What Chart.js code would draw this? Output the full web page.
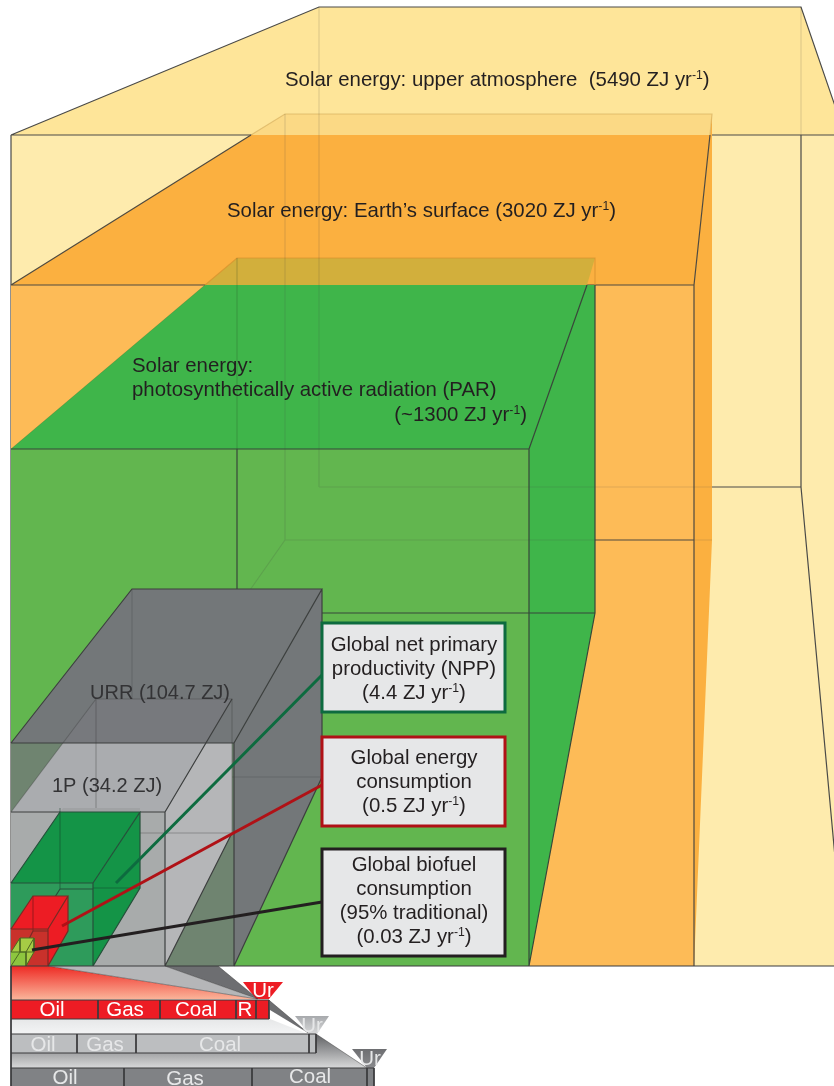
<!DOCTYPE html>
<html><head><meta charset="utf-8">
<script src="https://cdn.jsdelivr.net/npm/chart.js@4"></script>
<style>html,body{margin:0;padding:0;background:#fff;overflow:hidden}canvas{display:block}</style>
</head><body>
<canvas id="c" width="834" height="1086"></canvas>
<script>
// Scale domain of the diagram
const domainX = [0, 834];
const domainY = [0, 1086];

// Faces: [x, y] in diagram units
const yellowTop = [[11,135],[319,7],[801,7],[845,135]];
const yellowFront = [[11,135],[845,135],[845,966],[11,966]];
const orangeTopUpper = [[251,135],[285,114],[712,114],[710,135]];
const orangeTopLower = [[11,285],[251,135],[710,135],[694,285]];
const orangeFront = [[11,285],[694,285],[694,966],[11,966]];
const orangeSide = [[694,285],[710,135],[712,114],[712,540],[694,966]];
const greenTopUpper = [[205,285],[237,258],[595,258],[587,285]];
const greenTopLower = [[11,449],[205,285],[587,285],[529,449]];
const greenFront = [[11,449],[529,449],[529,966],[11,966]];
const greenSide = [[529,449],[587,285],[595,285],[595,613],[529,966]];
const urrTop = [[11,743],[132,589],[322,589],[234,743]];
const urrSide = [[234,743],[322,589],[322,777],[234,966]];
const urrFront = [[11,743],[234,743],[234,966],[11,966]];
const p1TopUpper = [[63,743],[96,699],[232,699],[206,743]];
const p1TopLower = [[11,812],[63,743],[206,743],[165,812]];
const p1Side = [[165,812],[206,743],[232,743],[232,833],[165,966]];
const p1Front = [[11,812],[165,812],[165,966],[11,966]];
const nppBand = [[63,808],[140,808],[140,812],[60,812]];
const nppTop = [[11,883],[60,812],[140,812],[93,883]];
const nppSide = [[93,883],[140,812],[140,888],[93,966]];
const nppFront = [[11,883],[93,883],[93,966],[11,966]];
const redTop = [[11,929],[33,896],[68,896],[48,929]];
const redSide = [[48,929],[68,896],[68,931],[48,966]];
const redFront = [[11,929],[48,929],[48,966],[11,966]];
const bioTop = [[11,952],[20,938],[34,938],[26,952]];
const bioSide = [[26,952],[34,938],[34,952],[26,966]];
const bioFront = [[11,952],[26,952],[26,966],[11,966]];
const fanRed = [[11,966],[48,966],[257,999],[11,1000]];
const fanLight = [[48,966],[165,966],[257,999]];
const fanDark = [[165,966],[218,966],[258,999]];
const fanDark2 = [[270,1001],[308,1033],[270,1010]];
const fanPale = [[11,1019],[270,1019],[308,1034],[11,1034]];
const fanGrey = [[11,1053],[316,1053],[316,1034],[367,1068],[11,1068]];
const barRed = [[11,1000],[269,1000],[269,1019],[11,1019]];
const barGrey = [[11,1034],[316,1034],[316,1053],[11,1053]];
const barDark = [[11,1068],[374,1068],[374,1090],[11,1090]];
const funnelRed = [[243,982],[283,982],[269,999],[256,999]];
const funnelGrey = [[295,1016],[329,1016],[317,1034],[309,1034]];
const funnelDark = [[352,1049],[387,1049],[374,1068],[367,1068]];
const boxNpp = [[322,623],[505,623],[505,712],[322,712]];
const boxEnergy = [[322,737],[505,737],[505,826],[322,826]];
const boxBio = [[322,849],[505,849],[505,956],[322,956]];

// Edges
const yellowOuter = [[[11,135],[319,7],[801,7],[845,135]],[[11,135],[845,135]],[[801,135],[801,487]],[[712,487],[801,487]],[[801,487],[845,966]],[[11,135],[11,966]]];
const orangeOuter = [[[11,285],[251,135]],[[11,285],[694,285]],[[694,285],[710,135]],[[694,285],[694,966]],[[595,540],[694,540]]];
const orangeRim = [[[251,135],[285,114],[712,114],[710,135]]];
const orangeBack = [[[285,114],[285,540]],[[285,540],[595,540]],[[319,7],[319,487]],[[319,487],[712,487]],[[801,7],[801,135]],[[285,540],[250,590]],[[694,540],[712,540]]];
const greenOuter = [[[11,449],[529,449]],[[587,285],[529,449]],[[529,449],[529,966]],[[595,285],[595,613]],[[595,613],[529,966]],[[237,449],[237,613]],[[237,613],[595,613]]];
const greenRim = [[[205,285],[237,258],[595,258],[595,285]]];
const greenSoft = [[[11,449],[205,285]]];
const greenBack = [[[237,258],[237,449]],[[237,613],[70,880]]];
const urrEdges = [[[11,743],[132,589],[322,589],[234,743]],[[11,743],[234,743]],[[234,743],[234,966]],[[322,589],[322,777],[234,966]]];
const urrBack = [[[132,589],[132,777]],[[132,777],[322,777]]];
const p1Edges = [[[11,812],[165,812]],[[165,812],[165,966]],[[165,812],[232,699]],[[232,833],[165,966]]];
const p1Back = [[[11,812],[96,699],[232,699],[232,833]],[[96,699],[96,833]],[[96,833],[232,833]]];
const nppEdges = [[[11,883],[60,812],[140,812],[93,883]],[[11,883],[93,883]],[[93,883],[93,966]],[[140,812],[140,888],[93,966]],[[60,889],[93,889]],[[60,889],[48,908]]];
const nppBack = [[[60,808],[60,889]],[[140,888],[93,888]]];
const redEdges = [[[11,929],[33,896],[68,896],[48,929]],[[11,929],[48,929]],[[48,929],[48,966]],[[68,896],[68,931],[48,966]],[[33,931],[48,931]],[[33,931],[26,945]]];
const redBack = [[[33,896],[33,931]]];
const bioEdges = [[[11,952],[20,938],[34,938],[26,952]],[[11,952],[26,952]],[[26,952],[26,966]],[[34,938],[34,952],[26,966]],[[20,952],[34,952]],[[20,938],[20,952],[11,966]]];
const baseEdge = [[[11,966],[845,966]]];
const fanEdges = [[[48,966],[257,999]],[[218,966],[258,999]],[[165,966],[258,999]],[[270,1001],[308,1033]],[[316,1034],[367,1068]]];
const barEdges = [[[11,1000],[269,1000],[269,1019],[11,1019]],[[98,1000],[98,1019]],[[160,1000],[160,1019]],[[236,1000],[236,1019]],[[256,1000],[256,1019]],
  [[11,1034],[316,1034],[316,1053],[11,1053]],[[77,1034],[77,1053]],[[136,1034],[136,1053]],[[309,1034],[309,1053]],
  [[11,1068],[374,1068],[374,1090]],[[124,1068],[124,1090]],[[252,1068],[252,1090]],[[367,1068],[367,1090]],[[11,966],[11,1086]]];
const linkNpp = [[116,883],[322,675]];
const linkEnergy = [[62,926],[322,785]];
const linkBio = [[32,950],[322,902]];

// Text
const solarLabels = [
 ["Solar energy: upper atmosphere  (5490 ZJ yr^-1^)",285,86,"left"],
 ["Solar energy: Earth\u2019s surface (3020 ZJ yr^-1^)",227,217,"left"],
 ["Solar energy:",132,372,"left"],
 ["photosynthetically active radiation (PAR)",132,396,"left"],
 ["(~1300 ZJ yr^-1^)",527,421,"right"]];
const stockLabels = [["URR (104.7 ZJ)",90,699,"left"],["1P (34.2 ZJ)",52,792,"left"]];
const boxLabels = [
 ["Global net primary",414,651,"center"],["productivity (NPP)",414,675,"center"],["(4.4 ZJ yr^-1^)",414,699,"center"],
 ["Global energy",414,764,"center"],["consumption",414,788,"center"],["(0.5 ZJ yr^-1^)",414,812,"center"],
 ["Global biofuel",414,871,"center"],["consumption",414,895,"center"],["(95% traditional)",414,919,"center"],["(0.03 ZJ yr^-1^)",414,943,"center"]];
const redBarLabels = [["Oil",52,1016],["Gas",125,1016],["Coal",196,1016],["R",245,1016],["Ur",263,997]];
const greyBarLabels = [["Oil",43,1051],["Gas",105,1051],["Coal",220,1051],["Ur",312,1032]];
const darkBarLabels = [["Oil",65,1084],["Gas",185,1085],["Coal",310,1083],["Ur",370,1065]];

const pts = list => list.map(p => ({x:p[0], y:p[1]}));
const closed = list => pts(list.concat([list[0]]));
const layers = [];
function poly(list, fill){
  layers.push({data:closed(list), fill:'shape', backgroundColor:fill, borderWidth:0, borderColor:'transparent'});
}
function edges(groups, color, width){
  const data = [];
  groups.forEach(g => { pts(g).forEach(p => data.push(p)); data.push({x:null,y:null}); });
  layers.push({data, fill:false, borderColor:color, borderWidth:width, backgroundColor:'transparent', borderCapStyle:'butt'});
}
const g2d = document.getElementById('c').getContext('2d');
function vgrad(y0, y1, c0, c1){
  const g = g2d.createLinearGradient(0,y0,0,y1);
  g.addColorStop(0,c0); g.addColorStop(1,c1); return g;
}
const DARK = '#3a3a3c', SOFT = 'rgba(60,60,60,.16)';

poly(yellowTop,'#FEE599'); poly(yellowFront,'#FEEBAD');
edges(yellowOuter,'#4a4a48',1.2);
poly(orangeFront,'#FDBB57'); poly(orangeSide,'#FBB040'); poly(orangeTopLower,'#FBB040'); poly(orangeTopUpper,'#FBD985');
edges(orangeRim,'rgba(210,170,90,.6)',1.2);
edges(orangeOuter,'#4f4a40',1.2);
poly(greenFront,'#62B64F'); poly(greenSide,'#3FB54A'); poly(greenTopLower,'#3FB54A'); poly(greenTopUpper,'#D2AF3C');
edges(greenRim,'rgba(215,145,45,.7)',1.2);
edges(orangeBack,SOFT,1.2);
edges(greenOuter,'#37473a',1.2);
edges(greenSoft,'rgba(40,90,40,.25)',1);
edges(greenBack,'rgba(40,70,40,.25)',1.1);
poly(urrTop,'#737779'); poly(urrSide,'#737779'); poly(urrFront,'#6F8470');
edges(urrBack,'rgba(40,40,40,.18)',1.1);
poly(p1Side,'#B5B6B8'); poly(p1TopLower,'#AAACAF'); poly(p1TopUpper,'#77797D'); poly(p1Front,'#A8ABAB');
edges(urrEdges,'#3d3f3f',1.2);
edges(p1Back,'rgba(60,60,60,.35)',1.1);
edges(p1Edges,'#3d3f3f',1.2);
poly(nppBand,'#A0A2A4'); poly(nppTop,'#149447'); poly(nppSide,'#149447'); poly(nppFront,'#2E9B5B');
edges(nppBack,'rgba(20,60,40,.45)',1.1);
edges(nppEdges,'#25503a',1.2);
poly(redTop,'#ED1C24'); poly(redSide,'#ED1C24'); poly(redFront,'#C9312B');
edges(redBack,'rgba(90,20,20,.5)',1.1);
edges(redEdges,'#7a2a24',1.2);
poly(bioTop,'#A6CC45'); poly(bioSide,'#A6CC45'); poly(bioFront,'#8DC63F');
edges(bioEdges,'#4c6a22',1);
poly(fanRed,vgrad(966,1000,'#EE2A24','#FBB79C'));
poly(fanLight,'#B5B6B8'); poly(fanDark,'#6D6E71');
poly(fanPale,vgrad(1019,1034,'#E6E7E8','#F3F4F5'));
poly(fanDark2,'#6D6E71');
poly(fanGrey,vgrad(1034,1068,'#5F6063','#D8D9DA'));
poly(barRed,'#ED1C24'); poly(barGrey,'#BCBEC0'); poly(barDark,'#808285');
poly(funnelRed,'#ED1C24');
poly(funnelGrey,vgrad(1016,1034,'#A7A9AC','#D8D9DA'));
poly(funnelDark,vgrad(1049,1068,'#6D6E71','#8A8B8E'));
edges(baseEdge,DARK,1.2);
edges(fanEdges,'rgba(60,60,60,.55)',.9);
edges(barEdges,'#3a3a3c',1);
edges([linkNpp],'#0D6B3F',3);
edges([linkEnergy],'#B01116',3);
edges([linkBio],'#231F20',3);
poly(boxNpp,'#E6E7E8'); poly(boxEnergy,'#E6E7E8'); poly(boxBio,'#E6E7E8');
edges([boxNpp.concat([boxNpp[0],boxNpp[1]])],'#0D6B3F',3);
edges([boxEnergy.concat([boxEnergy[0],boxEnergy[1]])],'#B01116',3);
edges([boxBio.concat([boxBio[0],boxBio[1]])],'#231F20',3);

// later layers paint on top: lower order is drawn later
layers.forEach((d,i) => { d.order = layers.length - i; d.pointRadius = 0; d.tension = 0; d.spanGaps = false; d.clip = false; });

const FONT = '"Liberation Sans", Arial, sans-serif';
function rich(ctx, x, y, s, size, align){
  const parts = s.split('^');
  const w = parts.map((t,i) => { ctx.font = (i%2 ? size*0.6 : size)+'px '+FONT; return ctx.measureText(t).width; });
  const tot = w.reduce((a,b)=>a+b,0);
  let cx = align==='right' ? x-tot : align==='center' ? x-tot/2 : x;
  ctx.textAlign = 'left';
  parts.forEach((t,i) => {
    ctx.font = (i%2 ? size*0.6 : size)+'px '+FONT;
    ctx.fillText(t, cx, i%2 ? y-size*0.36 : y);
    cx += w[i];
  });
}
const textPlugin = {
  id:'diagramText',
  afterDatasetsDraw(chart){
    const {ctx, scales:{x:sx, y:sy}} = chart;
    ctx.save();
    ctx.textBaseline = 'alphabetic';
    const put = (list, color, size) => {
      ctx.fillStyle = color;
      list.forEach(l => rich(ctx, sx.getPixelForValue(l[1]), sy.getPixelForValue(l[2]), l[0], size, l[3]||'center'));
    };
    put(solarLabels,'#231F20',20.4);
    put(stockLabels,'#333335',20);
    put(boxLabels,'#231F20',20.4);
    put(redBarLabels,'#FFFFFF',20.5);
    put(greyBarLabels,'#E6E7E8',20.5);
    put(darkBarLabels,'#E6E7E8',20.5);
    ctx.restore();
  }
};

new Chart(g2d, {
  type:'line',
  data:{datasets:layers},
  plugins:[textPlugin],
  options:{
    responsive:false, animation:false, parsing:true,
    layout:{padding:0},
    plugins:{legend:{display:false}, tooltip:{enabled:false}, title:{display:false}},
    elements:{line:{borderJoinStyle:'miter'}},
    scales:{
      x:{type:'linear', min:domainX[0], max:domainX[1], display:false},
      y:{type:'linear', min:domainY[0], max:domainY[1], reverse:true, display:false}
    }
  }
});
</script>
</body></html>
